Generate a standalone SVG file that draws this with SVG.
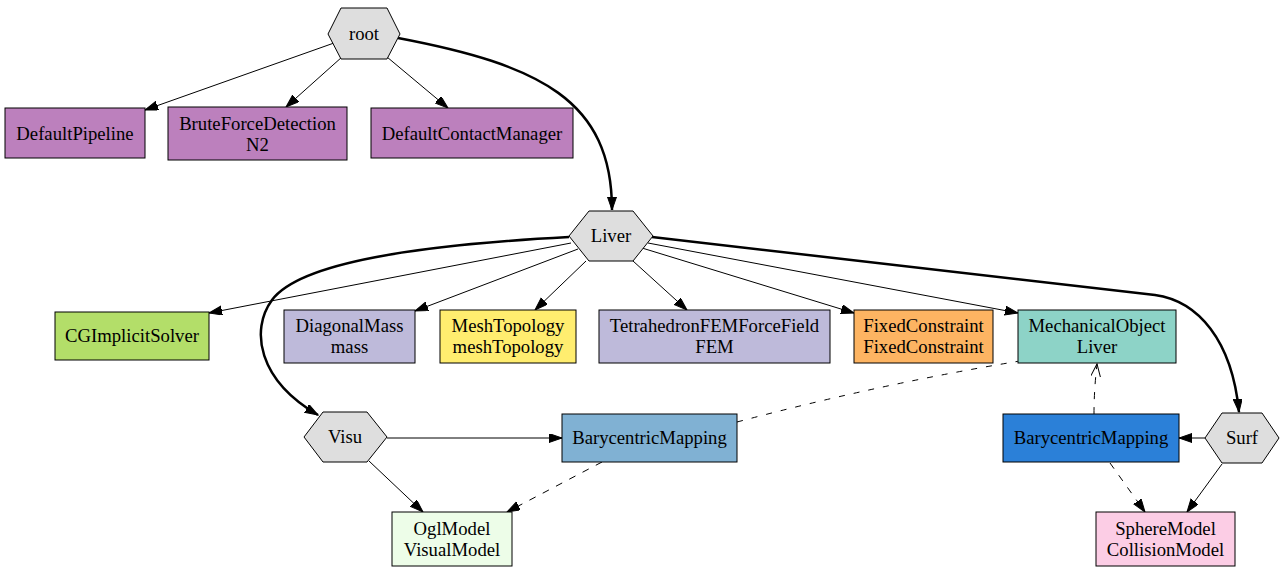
<svg xmlns="http://www.w3.org/2000/svg" width="1285" height="571" viewBox="0 0 1285 571">
<style>
text{font-family:"Liberation Serif","Times New Roman",serif;font-size:18.7px;fill:#000;text-anchor:middle}
.hex{fill:#dedede;stroke:#000;stroke-width:1}
.box{stroke:#000;stroke-width:1}
.e{fill:none;stroke:#000;stroke-width:1;marker-end:url(#ah)}
.b{fill:none;stroke:#000;stroke-width:2.5;marker-end:url(#ah)}
.d{fill:none;stroke:#000;stroke-width:1;stroke-dasharray:7,8}
.dd{fill:none;stroke:#000;stroke-width:1;stroke-dasharray:6,9}
</style>
<defs>
<marker id="ah" markerUnits="userSpaceOnUse" markerWidth="14" markerHeight="10" refX="13" refY="4.5" orient="auto" viewBox="0 0 14 10">
<path d="M0,0 L13,4.5 L0,9 z" fill="#000" stroke="#000" stroke-width="1"/>
</marker>
<marker id="vee" markerUnits="userSpaceOnUse" markerWidth="14" markerHeight="12" refX="13" refY="5" orient="auto" viewBox="0 0 14 12">
<path d="M0,0 L13,5 L0,10" fill="none" stroke="#000" stroke-width="1"/>
</marker>
</defs>
<rect width="1285" height="571" fill="#fff"/>
<g id="connectors">
<path class="e" d="M334,43 L145,110"/>
<path class="e" d="M342,57 L286,107"/>
<path class="e" d="M387,57 L448,108"/>
<path class="b" d="M398,38 C540,65 612,100 612,210"/>
<path class="e" d="M571,243 L209,313"/>
<path class="e" d="M578,249 L415,311"/>
<path class="e" d="M586,261 L535,310"/>
<path class="b" d="M569,237 C420,245 300,262 272,300 C250,330 258,380 318,415"/>
<path class="e" d="M633,261 L687,310"/>
<path class="e" d="M642,248 L854,313"/>
<path class="e" d="M648,243 L1018,313"/>
<path class="b" d="M652,237 L1155,295 C1198,301 1232,340 1239,412"/>
<path class="e" d="M387,438 L562,438"/>
<path class="e" d="M369,461 L423,512"/>
<path class="d" d="M602,462 L507,512" marker-end="url(#ah)"/>
<path class="dd" d="M737,422 Q880,384 1020,361"/>
<path class="e" d="M1205,438 L1179,438"/>
<path class="e" d="M1222,464 L1187,512"/>
<path class="d" d="M1110,463 L1145,512" marker-end="url(#ah)"/>
<path class="d" d="M1094,414 Q1094,390 1097,364" marker-end="url(#vee)"/>
</g>
<g id="root"><polygon class="hex" points="328,34 341,8 387,8 400,34 387,59 341,59"/><text x="364" y="40">root</text></g>
<g id="DefaultPipeline"><rect class="box" x="5" y="108" width="140" height="50" fill="#bc80bd"/><text x="75" y="140">DefaultPipeline</text></g>
<g id="BruteForceDetection"><rect class="box" x="168" y="107" width="179" height="53" fill="#bc80bd"/><text x="257.5" y="130">BruteForceDetection</text><text x="257.5" y="151">N2</text></g>
<g id="DefaultContactManager"><rect class="box" x="371" y="108" width="202" height="50" fill="#bc80bd"/><text x="472" y="140">DefaultContactManager</text></g>
<g id="Liver"><polygon class="hex" points="569,236 589,211 633,211 653,236 633,261 589,261"/><text x="611" y="242">Liver</text></g>
<g id="CGImplicitSolver"><rect class="box" x="55" y="312" width="154" height="48" fill="#b3de69"/><text x="132" y="342">CGImplicitSolver</text></g>
<g id="DiagonalMass"><rect class="box" x="284" y="310" width="131" height="53" fill="#bebada"/><text x="349.5" y="332">DiagonalMass</text><text x="349.5" y="353">mass</text></g>
<g id="MeshTopology"><rect class="box" x="440" y="310" width="136" height="53" fill="#ffed6f"/><text x="508" y="332">MeshTopology</text><text x="508" y="353">meshTopology</text></g>
<g id="TetrahedronFEMForceField"><rect class="box" x="599" y="310" width="231" height="53" fill="#bebada"/><text x="714.5" y="332">TetrahedronFEMForceField</text><text x="714.5" y="353">FEM</text></g>
<g id="FixedConstraint"><rect class="box" x="854" y="310" width="139" height="53" fill="#fdb462"/><text x="923.5" y="332">FixedConstraint</text><text x="923.5" y="353">FixedConstraint</text></g>
<g id="MechanicalObject"><rect class="box" x="1018" y="310" width="158" height="53" fill="#8dd3c7"/><text x="1097" y="332">MechanicalObject</text><text x="1097" y="353">Liver</text></g>
<g id="Visu"><polygon class="hex" points="304,437 323,412 367,412 387,437 367,462 323,462"/><text x="345" y="443">Visu</text></g>
<g id="BarycentricMappingVisu"><rect class="box" x="562" y="414" width="175" height="48" fill="#80b1d3"/><text x="649.5" y="444">BarycentricMapping</text></g>
<g id="OglModel"><rect class="box" x="392" y="512" width="120" height="54" fill="#edfde8"/><text x="452" y="535">OglModel</text><text x="452" y="556">VisualModel</text></g>
<g id="Surf"><polygon class="hex" points="1205,438 1222,413 1262,413 1279,438 1262,463 1222,463"/><text x="1242" y="444">Surf</text></g>
<g id="BarycentricMappingSurf"><rect class="box" x="1003" y="414" width="176" height="48" fill="#2b80d8"/><text x="1091" y="444">BarycentricMapping</text></g>
<g id="SphereModel"><rect class="box" x="1096" y="512" width="139" height="54" fill="#fccde5"/><text x="1165.5" y="535">SphereModel</text><text x="1165.5" y="556">CollisionModel</text></g>
</svg>
